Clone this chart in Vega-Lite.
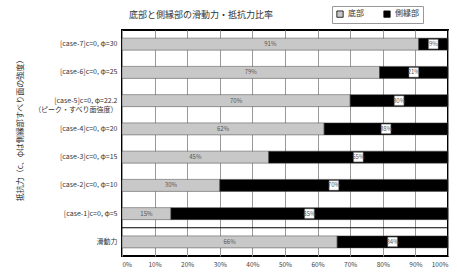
{
  "$schema": "https://vega.github.io/schema/vega-lite/v6.json",
  "width": 326,
  "height": 226,
  "autosize": {"type": "none"},
  "padding": {"left": 122, "top": 30, "right": 9, "bottom": 18},
  "background": "white",
  "config": {
    "font": "Noto Sans CJK JP",
    "view": {"stroke": "#000", "strokeWidth": 2},
    "axisX": {"labelOverlap": false, "labelFontSize": 6.5, "labelColor": "#444", "labelPadding": 5, "ticks": false, "domain": false, "grid": true, "gridColor": "#999", "gridWidth": 1}
  },
  "title": {"text": "底部と側縁部の滑動力・抵抗力比率", "fontSize": 9, "fontWeight": "normal", "color": "#333", "dx": -84, "offset": 0, "dy": 14},
  "data": {"values": [
    {"cat": "[case-7]c=0, φ=30", "part": "底部", "k": 1, "v": 0.91},
    {"cat": "[case-7]c=0, φ=30", "part": "側縁部", "k": 2, "v": 0.09},
    {"cat": "[case-6]c=0, φ=25", "part": "底部", "k": 1, "v": 0.79},
    {"cat": "[case-6]c=0, φ=25", "part": "側縁部", "k": 2, "v": 0.21},
    {"cat": "[case-5]c=0, φ=22.2|（ピーク・すべり面強度）", "part": "底部", "k": 1, "v": 0.70},
    {"cat": "[case-5]c=0, φ=22.2|（ピーク・すべり面強度）", "part": "側縁部", "k": 2, "v": 0.30},
    {"cat": "[case-4]c=0, φ=20", "part": "底部", "k": 1, "v": 0.62},
    {"cat": "[case-4]c=0, φ=20", "part": "側縁部", "k": 2, "v": 0.38},
    {"cat": "[case-3]c=0, φ=15", "part": "底部", "k": 1, "v": 0.45},
    {"cat": "[case-3]c=0, φ=15", "part": "側縁部", "k": 2, "v": 0.55},
    {"cat": "[case-2]c=0, φ=10", "part": "底部", "k": 1, "v": 0.30},
    {"cat": "[case-2]c=0, φ=10", "part": "側縁部", "k": 2, "v": 0.70},
    {"cat": "[case-1]c=0, φ=5", "part": "底部", "k": 1, "v": 0.15},
    {"cat": "[case-1]c=0, φ=5", "part": "側縁部", "k": 2, "v": 0.85},
    {"cat": "滑動力", "part": "底部", "k": 1, "v": 0.66},
    {"cat": "滑動力", "part": "側縁部", "k": 2, "v": 0.34}
  ]},
  "transform": [
    {"stack": "v", "groupby": ["cat"], "sort": [{"field": "k"}], "as": ["v0", "v1"]},
    {"calculate": "(datum.v0 + datum.v1) / 2", "as": "mid"}
  ],
  "encoding": {
    "y": {
      "field": "cat",
      "type": "nominal",
      "sort": ["[case-7]c=0, φ=30", "[case-6]c=0, φ=25", "[case-5]c=0, φ=22.2|（ピーク・すべり面強度）", "[case-4]c=0, φ=20", "[case-3]c=0, φ=15", "[case-2]c=0, φ=10", "[case-1]c=0, φ=5", "滑動力"],
      "scale": {"paddingInner": 0, "paddingOuter": 0},
      "axis": {
        "title": "抵抗力（c、φは側縁部すべり面の強度）",
        "titleFontSize": 8,
        "titleFontWeight": "normal",
        "titleColor": "#333",
        "titleAngle": -90,
        "titleX": -102,
        "titleY": 98,
        "titleAlign": "center",
        "titleBaseline": "middle",
        "labelExpr": "split(datum.label, '|')",
        "labelFontSize": 7,
        "labelColor": "#333",
        "labelPadding": 5,
        "labelLimit": 120,
        "ticks": false,
        "domain": false,
        "grid": false
      }
    }
  },
  "layer": [
    {
      "mark": {"type": "bar", "height": 12, "stroke": "#444", "strokeWidth": 0.5},
      "encoding": {
        "x": {
          "field": "v0",
          "type": "quantitative",
          "scale": {"domain": [0, 1], "nice": false},
          "axis": {"title": null, "format": ".0%", "values": [0, 0.1, 0.2, 0.3, 0.4, 0.5, 0.6, 0.7, 0.8, 0.9, 1]}
        },
        "x2": {"field": "v1"},
        "color": {
          "field": "part",
          "type": "nominal",
          "scale": {"domain": ["底部", "側縁部"], "range": ["#c8c8c8", "#000000"]},
          "legend": {
            "title": null,
            "orient": "none",
            "legendX": 210,
            "legendY": -24,
            "direction": "horizontal",
            "symbolType": "square",
            "symbolSize": 40,
            "symbolStrokeColor": "#000",
            "symbolStrokeWidth": 0.8,
            "labelFontSize": 8,
            "labelColor": "#333",
            "columnPadding": 18,
            "padding": 4,
            "strokeColor": "#999"
          }
        }
      }
    },
    {
      "transform": [{"filter": "datum.cat == '滑動力' && datum.k == 1"}],
      "mark": {"type": "rule", "color": "#000", "strokeWidth": 1},
      "encoding": {"y": {"field": "cat", "type": "nominal", "bandPosition": 0}}
    },
    {
      "transform": [{"filter": "datum.k == 2"}],
      "mark": {"type": "point", "shape": "square", "filled": true, "color": "white", "size": 90, "stroke": "#888", "strokeWidth": 0.5, "opacity": 1},
      "encoding": {"x": {"field": "mid", "type": "quantitative", "axis": {"title": null, "format": ".0%", "values": [0, 0.1, 0.2, 0.3, 0.4, 0.5, 0.6, 0.7, 0.8, 0.9, 1]}}}
    },
    {
      "mark": {"type": "text", "fontSize": 6, "color": "#555"},
      "encoding": {
        "x": {"field": "mid", "type": "quantitative", "axis": {"title": null, "format": ".0%", "values": [0, 0.1, 0.2, 0.3, 0.4, 0.5, 0.6, 0.7, 0.8, 0.9, 1]}},
        "text": {"field": "v", "type": "quantitative", "format": ".0%"}
      }
    }
  ]
}
